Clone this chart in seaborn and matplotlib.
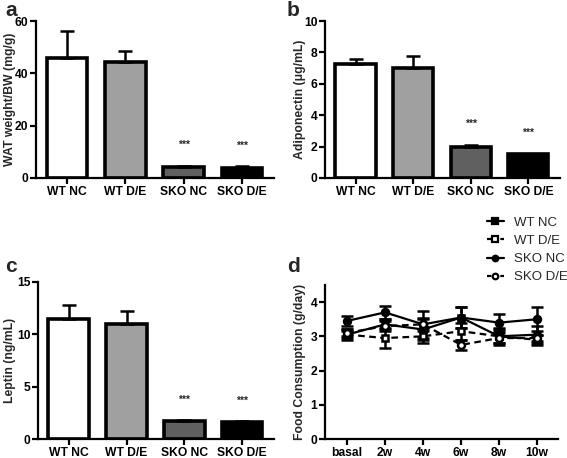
import numpy as np
import pandas as pd
import matplotlib
matplotlib.use('Agg')
import matplotlib.pyplot as plt
import seaborn as sns

# Data
groups = ['WT NC', 'WT D/E', 'SKO NC', 'SKO D/E']
bar_colors = ['#ffffff', '#a0a0a0', '#606060', '#000000']

wat_mean = [46.0, 44.5, 4.2, 4.0]
wat_sem = [10.0, 4.0, 0.5, 0.5]

adipo_mean = [7.25, 7.0, 1.95, 1.5]
adipo_sem = [0.3, 0.8, 0.15, 0.05]

leptin_mean = [11.5, 11.0, 1.7, 1.65]
leptin_sem = [1.3, 1.2, 0.1, 0.05]

weeks = ['basal', '2w', '4w', '6w', '8w', '10w']
food_wt_nc = [3.05, 3.35, 3.2, 3.55, 3.0, 3.05]
food_wt_nc_sem = [0.15, 0.15, 0.3, 0.3, 0.25, 0.25]
food_wt_de = [3.05, 2.95, 3.0, 3.15, 3.0, 2.9]
food_wt_de_sem = [0.1, 0.3, 0.2, 0.25, 0.2, 0.15]
food_sko_nc = [3.45, 3.7, 3.35, 3.55, 3.4, 3.5]
food_sko_nc_sem = [0.15, 0.2, 0.4, 0.3, 0.25, 0.35]
food_sko_de = [3.1, 3.3, 3.35, 2.75, 2.95, 2.95]
food_sko_de_sem = [0.1, 0.15, 0.2, 0.15, 0.15, 0.1]

sns.set_style('ticks')
plt.rcParams['font.family'] = ['Liberation Sans', 'DejaVu Sans']
plt.rcParams['font.weight'] = 'bold'
plt.rcParams['axes.labelweight'] = 'bold'
plt.rcParams['axes.linewidth'] = 1.6
plt.rcParams['xtick.major.width'] = 1.6
plt.rcParams['ytick.major.width'] = 1.6
plt.rcParams['xtick.major.size'] = 4
plt.rcParams['ytick.major.size'] = 4
plt.rcParams['xtick.major.pad'] = 1.5
plt.rcParams['ytick.major.pad'] = 1.5
plt.rcParams['xtick.labelsize'] = 8.7
plt.rcParams['ytick.labelsize'] = 8.7
plt.rcParams['xtick.color'] = 'black'
plt.rcParams['ytick.color'] = 'black'
plt.rcParams['axes.edgecolor'] = 'black'

fig = plt.figure(figsize=(5.67, 4.58), dpi=100)
W, H = 567, 458


def add_ax(left, top, right, bottom):
    return fig.add_axes([left / W, 1 - bottom / H, (right - left) / W, (bottom - top) / H])


def place_ylabel(ax, ylabel, left, right, x_px):
    ax.set_ylabel(ylabel, fontsize=8.8)
    ax.yaxis.set_label_coords((x_px - left) / (right - left), 0.5)


def bar_panel(ax, means, sems, ymax, step):
    df = pd.DataFrame({'group': groups, 'value': means})
    sns.barplot(data=df, x='group', y='value', hue='group', palette=bar_colors,
                edgecolor='black', linewidth=2.6, width=0.7, legend=False, ax=ax)
    ax.errorbar(range(4), means, yerr=[[0] * 4, sems], fmt='none',
                ecolor='black', elinewidth=1.8, capsize=5, capthick=1.8)
    for i in [2, 3]:
        ax.text(i, means[i] + sems[i] + ymax * 0.1, '***', ha='center',
                va='bottom', fontsize=7.5, fontweight='bold')
    ax.set_xlim(-0.53, 3.55)
    ax.set_ylim(0, ymax)
    ax.set_yticks(np.arange(0, ymax + step / 2, step))
    ax.set_xlabel('')
    sns.despine(ax=ax)


ax_a = add_ax(36, 21, 274, 178)
bar_panel(ax_a, wat_mean, wat_sem, 60, 20)
place_ylabel(ax_a, 'WAT weight/BW (mg/g)', 36, 274, 16)
fig.text(5 / W, 1 - 1 / H, 'a', fontsize=15, fontweight='bold', va='top')

ax_b = add_ax(325, 21, 560, 178)
bar_panel(ax_b, adipo_mean, adipo_sem, 10, 2)
place_ylabel(ax_b, 'Adiponectin (\u03bcg/mL)', 325, 560, 306)
fig.text(287 / W, 1 - 1 / H, 'b', fontsize=15, fontweight='bold', va='top')

ax_c = add_ax(38, 282, 274, 439)
bar_panel(ax_c, leptin_mean, leptin_sem, 15, 5)
place_ylabel(ax_c, 'Leptin (ng/mL)', 38, 274, 16)
fig.text(5 / W, 1 - 257 / H, 'c', fontsize=15, fontweight='bold', va='top')

# Food consumption panel
ax_d = add_ax(325, 285, 558, 439)
series = [
    ('WT NC', food_wt_nc, food_wt_nc_sem, '-', 's', 'black'),
    ('WT D/E', food_wt_de, food_wt_de_sem, '--', 's', 'white'),
    ('SKO NC', food_sko_nc, food_sko_nc_sem, '-', 'o', 'black'),
    ('SKO D/E', food_sko_de, food_sko_de_sem, '--', 'o', 'white'),
]
rows = []
for name, vals, _, _, _, _ in series:
    for wk, v in zip(weeks, vals):
        rows.append({'week': wk, 'food': v, 'group': name})
food_df = pd.DataFrame(rows)
x = np.arange(len(weeks))
for name, vals, sems, ls, mk, fc in series:
    ax_d.errorbar(x, vals, yerr=sems, fmt='none', ecolor='black',
                  elinewidth=1.8, capsize=4, capthick=1.8, zorder=2)
sns.lineplot(data=food_df, x='week', y='food', hue='group', style='group',
             palette=['black'] * 4, dashes={'WT NC': '', 'WT D/E': (3, 2),
                                            'SKO NC': '', 'SKO D/E': (3, 2)},
             markers={'WT NC': 's', 'WT D/E': 's', 'SKO NC': 'o', 'SKO D/E': 'o'},
             markersize=5, linewidth=1.6, markeredgecolor='black',
             markeredgewidth=1.8, sort=False, ax=ax_d, legend=False, zorder=3)
# hollow markers for D/E groups
for line, (name, vals, sems, ls, mk, fc) in zip(ax_d.get_lines()[-4:], series):
    line.set_markerfacecolor(fc)
ax_d.set_xlim(-0.58, 5.55)
ax_d.set_ylim(0, 4.5)
ax_d.set_yticks([0, 1, 2, 3, 4])
ax_d.set_xlabel('')
sns.despine(ax=ax_d)
place_ylabel(ax_d, 'Food Consumption (g/day)', 325, 558, 306)
fig.text(287 / W, 1 - 257 / H, 'd', fontsize=15, fontweight='bold', va='top')

handles = []
for name, vals, sems, ls, mk, fc in series:
    h, = ax_d.plot([], [], color='black', linestyle=ls, marker=mk, markersize=4,
                   markerfacecolor=fc, markeredgecolor='black', markeredgewidth=1.6,
                   linewidth=1.6, label=name, dashes=(2, 1) if ls == '--' else (None, None))
    handles.append(h)
fig.legend(handles=handles, loc='upper left', bbox_to_anchor=(480 / W, 1 - 210 / H),
           frameon=False, handlelength=1.3, handletextpad=0.8, labelspacing=0.45,
           borderpad=0, prop={'weight': 'normal', 'size': 9.5})

fig.savefig('out.png', dpi=100)
